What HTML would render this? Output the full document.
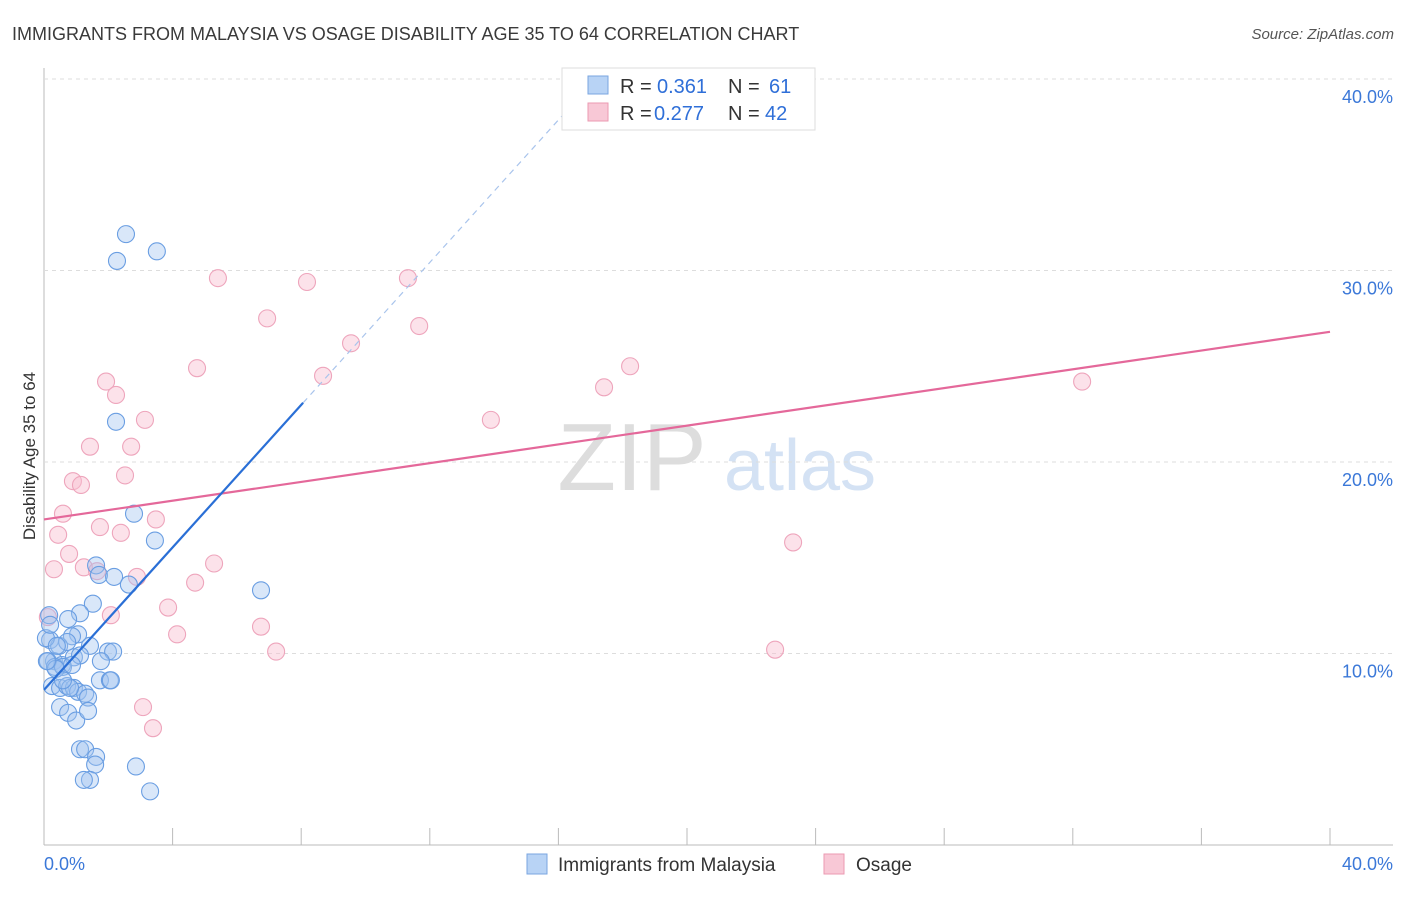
<!DOCTYPE html>
<html><head><meta charset="utf-8"><style>
body{margin:0;background:#fff;font-family:"Liberation Sans",sans-serif;}
svg text{font-family:"Liberation Sans",sans-serif;}
</style></head><body>
<svg id="c" width="1406" height="892">
<text x="12" y="40" font-size="18" fill="#3a3a3a">IMMIGRANTS FROM MALAYSIA VS OSAGE DISABILITY AGE 35 TO 64 CORRELATION CHART</text>
<text x="1394" y="39" font-size="15" fill="#555" font-style="italic" text-anchor="end">Source: ZipAtlas.com</text>
<text x="35" y="456" font-size="17" fill="#333" text-anchor="middle" transform="rotate(-90 35 456)">Disability Age 35 to 64</text>
<text x="632" y="490" font-size="96" fill="#ddd" font-family="Liberation Serif" text-anchor="middle">ZIP</text>
<text x="800" y="490" font-size="72" fill="#d4e2f4" text-anchor="middle">atlas</text>
<g id="grid"></g><g id="marks"></g>
<g>
<rect x="562" y="68" width="253" height="62" fill="#fff" stroke="#ddd"/>
<rect x="588" y="76" width="20" height="18" fill="#b8d3f5" stroke="#7aa6e0"/>
<text y="93" font-size="20" fill="#333"><tspan x="620">R =</tspan><tspan x="657" fill="#2f6fd8">0.361</tspan><tspan x="728">N =</tspan><tspan x="769" fill="#2f6fd8">61</tspan></text>
<rect x="588" y="103" width="20" height="18" fill="#f8c8d6" stroke="#eb9ab2"/>
<text y="120" font-size="20" fill="#333"><tspan x="620">R =</tspan><tspan x="654" fill="#2f6fd8">0.277</tspan><tspan x="728">N =</tspan><tspan x="765" fill="#2f6fd8">42</tspan></text>
</g>
<g>
<rect x="527" y="854" width="20" height="20" fill="#b8d3f5" stroke="#7aa6e0"/>
<text x="558" y="871" font-size="19" fill="#333">Immigrants from Malaysia</text>
<rect x="824" y="854" width="20" height="20" fill="#f8c8d6" stroke="#eb9ab2"/>
<text x="856" y="871" font-size="19" fill="#333">Osage</text>
</g>
</svg>
<script>
const yTicks=[10,20,30,40];
const xTicks=[0,40];
const blueX=[2.55,2.27,3.51,2.24,2.8,3.45,6.75,1.62,1.71,2.18,2.64,1.52,1.12,0.75,1.06,0.87,0.19,0.47,0.72,1.43,1.99,2.15,0.31,0.56,0.93,1.12,1.77,0.12,0.34,0.59,0.25,0.50,0.72,0.93,1.06,1.28,1.37,1.74,2.05,0.50,0.75,1.0,1.37,1.12,1.28,1.62,1.59,1.43,1.24,3.30,2.86,0.16,0.06,0.19,0.37,0.81,0.59,0.09,0.40,2.08,0.87];
const blueY=[31.9,30.5,31.0,22.1,17.3,15.9,13.3,14.6,14.1,14.0,13.6,12.6,12.1,11.8,11.0,10.9,10.7,10.4,10.6,10.4,10.1,10.1,9.6,9.4,9.8,9.9,9.6,9.6,9.3,9.3,8.3,8.2,8.3,8.2,8.0,7.9,7.7,8.6,8.6,7.2,6.9,6.5,7.0,5.0,5.0,4.6,4.2,3.4,3.4,2.8,4.1,12.0,10.8,11.5,9.2,8.2,8.6,9.6,10.4,8.6,9.4];
const pinkX=[5.41,8.18,11.32,6.94,11.67,9.55,4.76,8.68,1.93,2.24,18.23,17.42,32.29,3.14,13.9,2.71,1.43,2.52,0.90,1.15,0.59,3.48,1.74,2.39,0.44,0.78,23.3,0.31,1.24,1.65,2.89,5.29,4.70,3.86,2.08,4.14,6.75,7.22,22.74,3.08,3.39,0.12];
const pinkY=[29.6,29.4,29.6,27.5,27.1,26.2,24.9,24.5,24.2,23.5,25.0,23.9,24.2,22.2,22.2,20.8,20.8,19.3,19.0,18.8,17.3,17.0,16.6,16.3,16.2,15.2,15.8,14.4,14.5,14.3,14.0,14.7,13.7,12.4,12.0,11.0,11.4,10.1,10.2,7.2,6.1,11.9];
const blueFit=[8.1,1.86], pinkFit=[17.0,0.245];
const X=v=>44+v/40*1286, Y=v=>845-v*19.15;
const NS='http://www.w3.org/2000/svg';
const g=document.getElementById('grid'), m=document.getElementById('marks');
function mk(p,tag,a){const e=document.createElementNS(NS,tag);for(const k in a)e.setAttribute(k,a[k]);p.appendChild(e);return e;}
let e=mk(g,'line',{x1:44,y1:68,x2:44,y2:845,stroke:'#bbb'});


e=mk(g,'line',{x1:44,y1:845,x2:1393,y2:845,stroke:'#bbb'});


for(let i=0;i<=10;i++){const x=44+i*128.6;e=mk(g,'line',{x1:x,y1:828,x2:x,y2:845,stroke:'#bbb'});

}
yTicks.forEach(t=>{e=mk(g,'line',{x1:44,y1:Y(t),x2:1393,y2:Y(t),stroke:'#ddd','stroke-dasharray':'4,4'});


e=mk(g,'text',{x:1393,y:Y(t)+24,'font-size':18,fill:'#3b78d8','text-anchor':'end'});e.textContent=t.toFixed(1)+'%';

});
xTicks.forEach((t,i)=>{e=mk(g,'text',{x:i?1393:44,y:870,'font-size':18,fill:'#3b78d8','text-anchor':i?'end':'start'});e.textContent=t.toFixed(1)+'%';

});
pinkX.forEach((v,i)=>{e=mk(m,'circle',{cx:X(v),cy:Y(pinkY[i]),r:8.5,fill:'rgba(248,190,208,0.45)',stroke:'#eea5bc','stroke-width':1.1});

});
blueX.forEach((v,i)=>{e=mk(m,'circle',{cx:X(v),cy:Y(blueY[i]),r:8.5,fill:'rgba(160,196,240,0.4)',stroke:'#6a9ee2','stroke-width':1.1});

});
e=mk(m,'line',{x1:X(0),y1:Y(pinkFit[0]),x2:X(40),y2:Y(pinkFit[0]+40*pinkFit[1]),stroke:'#e4689a','stroke-width':2.2});


const bx=8.06;
e=mk(m,'line',{x1:X(0),y1:Y(blueFit[0]),x2:X(bx),y2:Y(blueFit[0]+bx*blueFit[1]),stroke:'#2a6fd6','stroke-width':2.2});


const bx2=(40-blueFit[0])/blueFit[1]-0.4;
e=mk(m,'line',{x1:X(bx),y1:Y(blueFit[0]+bx*blueFit[1]),x2:X(bx2),y2:Y(blueFit[0]+bx2*blueFit[1]),stroke:'#a9c4ec','stroke-width':1.2,'stroke-dasharray':'6,5'});


</script>
</body></html>
